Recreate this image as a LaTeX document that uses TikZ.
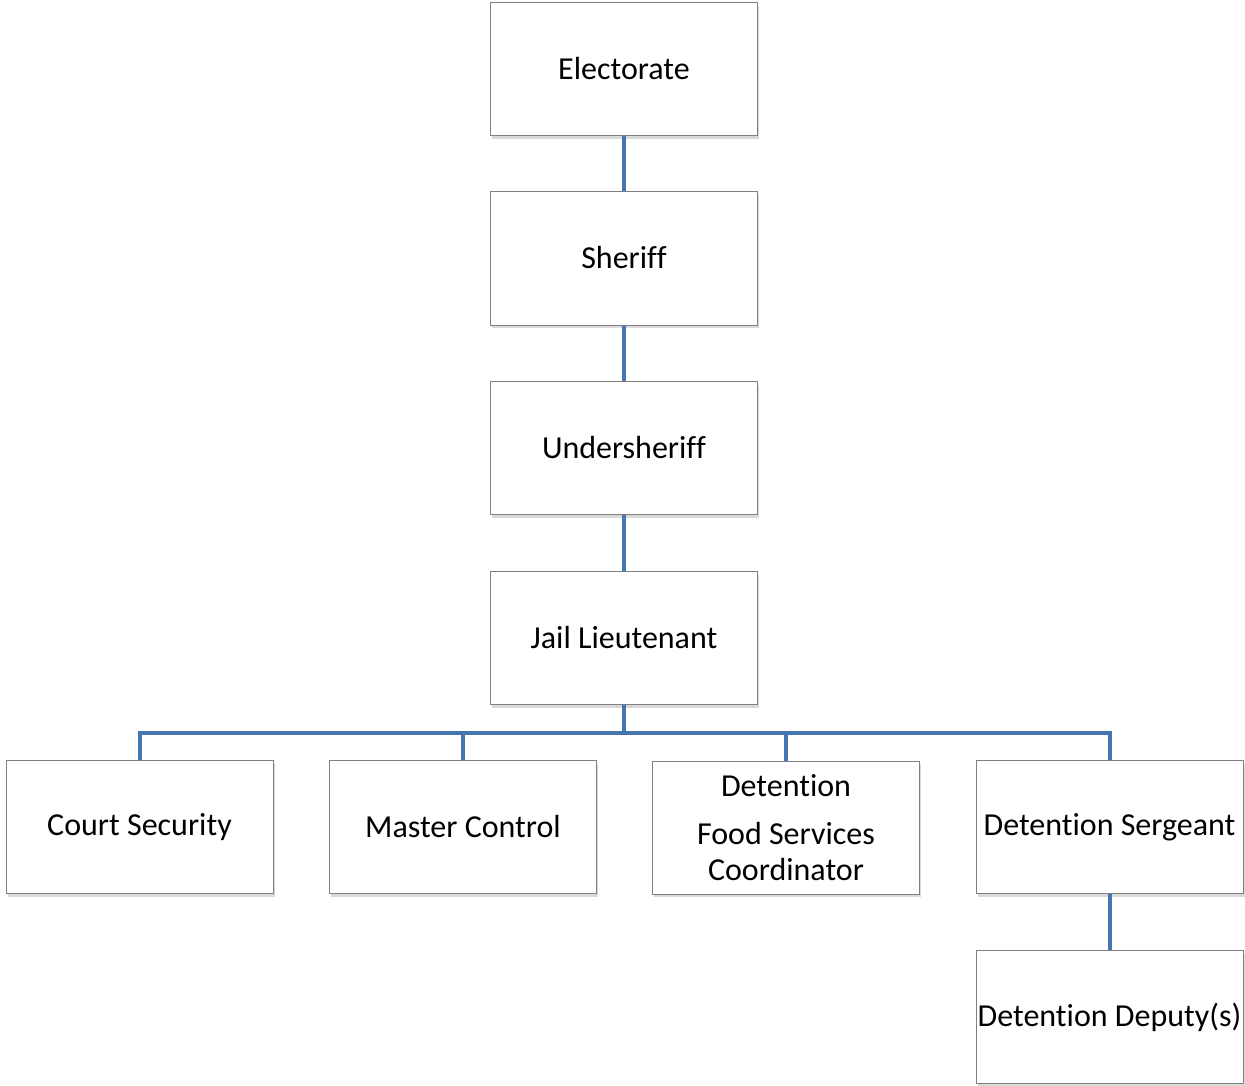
\documentclass[tikz,border=0pt]{standalone}
\usepackage{fontspec}
\setmainfont[RawFeature={-liga;-clig;-rlig;-calt}]{Carlito}
\usetikzlibrary{shadows}
\definecolor{linkblue}{RGB}{70,118,175}
\definecolor{boxgray}{RGB}{128,128,128}
\newcommand{\nolig}{\kern0pt{}}
\tikzset{
  orgbox/.style={draw=boxgray, line width=1pt, fill=white, minimum width=267pt, minimum height=133pt,
    inner sep=0pt, align=center, font=\fontsize{32}{36}\selectfont,
    drop shadow={opacity=0.3, shadow xshift=1.5pt, shadow yshift=-3pt}},
  link/.style={draw=linkblue, line width=4pt}
}
\begin{document}
\begin{tikzpicture}[x=1pt,y=-1pt]
\useasboundingbox (0,0) rectangle (1245,1086);
\node[orgbox] (elec) at (624,69.5) {\raisebox{1.5pt}{Electorate}};
\node[orgbox] (sher) at (624,258.5) {\raisebox{1.5pt}{Sherif\nolig f}};
\node[orgbox] (under) at (624,448) {\raisebox{1.5pt}{Undersherif\nolig f}};
\node[orgbox] (lieut) at (624,638) {\raisebox{1.5pt}{Jail Lieutenant}};
\node[orgbox] (court) at (139.5,827) {Court Security};
\node[orgbox] (master) at (463,827) {Master Control};
\node[orgbox] (food) at (786,827.5) {Detent\nolig ion\\[12pt]Food Services\\Coordinator};
\node[orgbox] (serg) at (1109.5,827) {Detent\nolig ion Sergeant};
\node[orgbox] (dep) at (1109.5,1017) {Detent\nolig ion Deputy(s)};
\coordinate (bus) at (624,733);
\draw[link] (elec.south) -- (sher.north);
\draw[link] (sher.south) -- (under.north);
\draw[link] (under.south) -- (lieut.north);
\draw[link] (lieut.south) -- (bus);
\draw[link] (court.north) -- (court.north |- bus) -- (serg.north |- bus) -- (serg.north);
\draw[link] (master.north) -- (master.north |- bus);
\draw[link] (food.north) -- (food.north |- bus);
\draw[link] (serg.south) -- (dep.north);
\end{tikzpicture}
\end{document}
